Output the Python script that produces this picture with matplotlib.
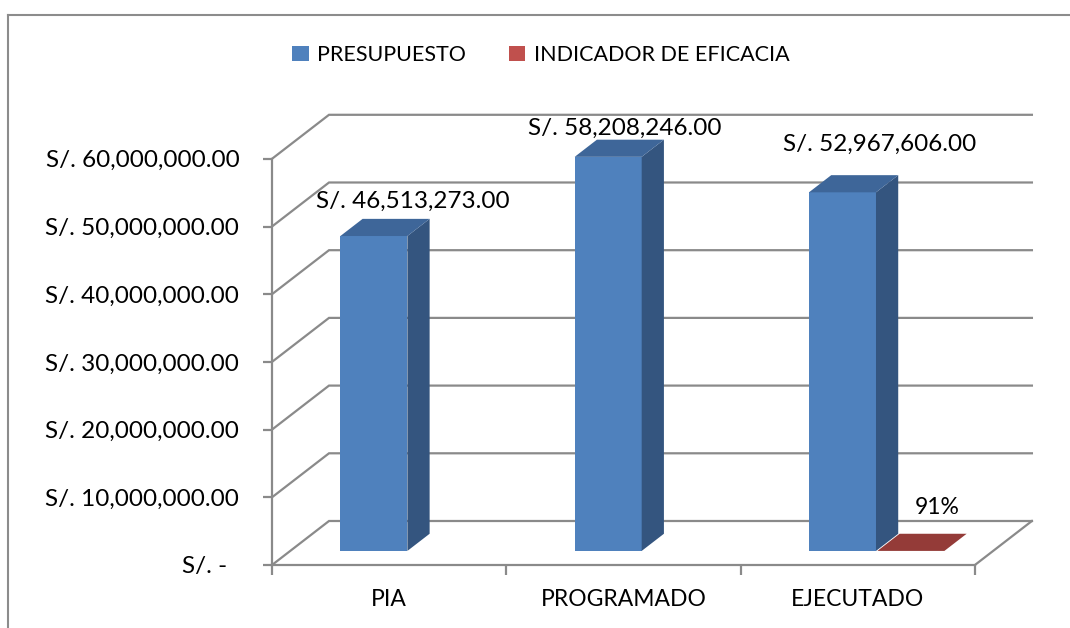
import matplotlib
matplotlib.use("Agg")
import matplotlib.pyplot as plt
import numpy as np
from matplotlib.patches import Polygon, Patch
from matplotlib.lines import Line2D

# data
categories = ["PIA", "PROGRAMADO", "EJECUTADO"]
presupuesto = [46513273.00, 58208246.00, 52967606.00]
eficacia = [np.nan, np.nan, 0.91]
eficacia_labels = ["", "", "91%"]
yticks = [0, 10e6, 20e6, 30e6, 40e6, 50e6, 60e6]

plt.rcParams["font.family"] = ["Lato", "DejaVu Sans"]

GRID = "#8a8a8a"
BLUE = ("#4F81BD", "#34557F", "#3E6699")  # front, side, top
RED = ("#C0504D", "#7A2E2C", "#943B38")

# pseudo 3d depth (data units)
DX = 0.2433
DY = 6.5e6
D0, D1 = 0.32, 0.71  # bar front/back as fraction of depth
WIDTH = 0.286


def fmt_money(v):
    if v == 0:
        return "S/. -  "
    return "S/. {:,.2f}".format(v)


fig = plt.figure(figsize=(10.70, 6.28), dpi=100)
ax = fig.add_axes((272 / 1070, 63 / 628, 3.3 * 234.3 / 1070, 507.75 / 628))
ax.set_xlim(0, 3.3)
ax.set_ylim(0, 75e6)
ax.patch.set_alpha(0)

# walls / gridlines
for v in yticks:
    ax.plot([0, DX, 3 + DX], [v, v + DY, v + DY], color=GRID, lw=1.6,
            zorder=1, solid_joinstyle="miter", clip_on=False)
ax.plot([3, 3 + DX], [0, DY], color=GRID, lw=1.6, zorder=1, clip_on=False)


def draw_bars(centers, values, colors, zo):
    front, side, top = colors
    x0 = np.array(centers) - WIDTH / 2 + D0 * DX
    ax.bar(x0, values, WIDTH, bottom=D0 * DY, align="edge", color=front,
           zorder=zo, linewidth=0)
    ddx = (D1 - D0) * DX
    ddy = (D1 - D0) * DY
    for xl, v in zip(x0, values):
        if np.isnan(v):
            continue
        xr = xl + WIDTH
        yb = D0 * DY
        yt = D0 * DY + v
        ax.add_patch(Polygon([(xr, yb), (xr + ddx, yb + ddy), (xr + ddx, yt + ddy), (xr, yt)],
                             closed=True, facecolor=side, edgecolor="none", zorder=zo))
        ax.add_patch(Polygon([(xl, yt), (xl + ddx, yt + ddy), (xr + ddx, yt + ddy), (xr, yt)],
                             closed=True, facecolor=top, edgecolor="none", zorder=zo + 0.1))


pos = np.arange(len(categories)) + 0.5
blue_c = pos - 0.143
red_c = pos + 0.149
draw_bars(blue_c, np.array(presupuesto), BLUE, 3)
draw_bars(red_c, np.array(eficacia), RED, 4)

# value labels (offsets in points, tweaked to sit like the original)
label_off = [(12, 5), (-4, 0.5), (11, 14.5)]
for c, v, off in zip(blue_c, presupuesto, label_off):
    ax.annotate(fmt_money(v), (c + D1 * DX, v + D1 * DY), xytext=off,
                textcoords="offset points", ha="center", va="bottom",
                fontsize=17.5, color="black", annotation_clip=False)
for c, v, t in zip(red_c, eficacia, eficacia_labels):
    if np.isnan(v):
        continue
    ax.annotate(t, (c + D1 * DX, v + D1 * DY), xytext=(3, 11),
                textcoords="offset points", ha="center", va="bottom",
                fontsize=16.5, color="black", annotation_clip=False)

# axes
for s in ["top", "right"]:
    ax.spines[s].set_visible(False)
ax.spines["left"].set_bounds(0, 60e6)
ax.spines["bottom"].set_bounds(0, 3)
for s in ["left", "bottom"]:
    ax.spines[s].set_color(GRID)
    ax.spines[s].set_linewidth(1.6)
    ax.spines[s].set_zorder(2)

ax.set_yticks(yticks)
ax.set_yticklabels([fmt_money(v) for v in yticks])
ax.tick_params(axis="y", length=6.5, width=1.6, color=GRID, pad=17,
               labelsize=17.5)
ax.set_xticks([0, 1, 2, 3])
ax.set_xticklabels([])
ax.tick_params(axis="x", which="major", length=7, width=1.6, color=GRID,
               direction="out")
ax.set_xticks(pos, minor=True)
ax.set_xticklabels(categories, minor=True)
ax.tick_params(axis="x", which="minor", length=0, pad=17, labelsize=16.5)

# legend
handles = [Patch(facecolor=BLUE[0]), Patch(facecolor=RED[0])]
fig.legend(handles, ["PRESUPUESTO", "INDICADOR DE EFICACIA"], loc="center",
           bbox_to_anchor=(541 / 1070, 1 - 55 / 628), ncol=2, frameon=False,
           fontsize=15.5, handlelength=0.75, handleheight=0.75,
           handletextpad=0.4, columnspacing=2.0)

# chart border (only top/left visible in the crop)
fig.add_artist(Line2D([8 / 1070, 1], [1 - 15 / 628, 1 - 15 / 628], color="#8c8c8c", lw=1.5))
fig.add_artist(Line2D([8 / 1070, 8 / 1070], [0, 1 - 15 / 628], color="#8c8c8c", lw=1.5))

fig.savefig("out.png", dpi=100)
